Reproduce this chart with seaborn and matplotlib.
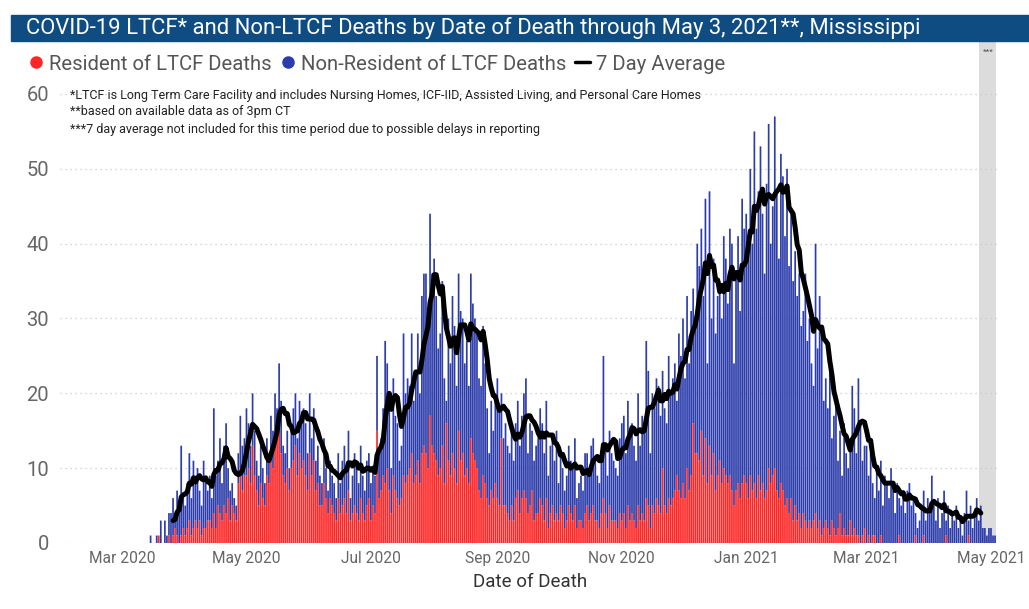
import matplotlib
matplotlib.use("Agg")
import matplotlib.pyplot as plt
import matplotlib.dates as mdates
from matplotlib.lines import Line2D
from matplotlib.patches import Rectangle
import pandas as pd
import seaborn as sns

# daily deaths from 2020-03-11 to 2021-05-03, one line per month
total_deaths = [
    0, 0, 0, 0, 1, 0, 0, 1, 1, 3, 0, 3, 1, 4, 4, 6, 4, 7, 5, 13, 6,
    5, 8, 12, 6, 11, 9, 10, 7, 5, 11, 8, 7, 9, 6, 18, 9, 11, 14, 8, 13, 16, 10, 7, 8, 6, 5, 12, 17, 13, 14,
    18, 16, 13, 20, 15, 11, 9, 13, 10, 8, 14, 12, 17, 15, 20, 18, 24, 19, 13, 12, 15, 10, 16, 18, 20, 14, 19, 17, 18, 16, 12,
    20, 14, 18, 11, 13, 9, 8, 14, 10, 7, 11, 9, 8, 6, 12, 8, 11, 13, 10, 15, 6, 9, 12, 10, 8, 13, 9, 7, 11, 12,
    8, 10, 9, 25, 12, 14, 18, 27, 24, 20, 10, 22, 17, 16, 11, 13, 28, 20, 22, 21, 28, 19, 22, 28, 20, 33, 36, 36, 28, 44, 36,
    38, 33, 26, 28, 35, 22, 19, 30, 24, 33, 29, 21, 36, 31, 30, 24, 27, 21, 36, 32, 30, 28, 22, 21, 29, 24, 18, 12, 19, 15, 20,
    22, 18, 20, 14, 16, 13, 12, 15, 11, 16, 19, 13, 17, 20, 22, 12, 16, 15, 11, 13, 14, 18, 16, 12, 19, 9, 13, 14, 11, 15,
    8, 12, 10, 7, 9, 13, 11, 10, 14, 6, 8, 9, 7, 12, 12, 10, 13, 14, 11, 9, 8, 12, 25, 13, 9, 15, 12, 11, 10, 9, 14,
    16, 17, 12, 19, 14, 16, 13, 11, 20, 13, 17, 15, 27, 23, 12, 20, 18, 22, 21, 17, 23, 18, 16, 25, 20, 22, 24, 19, 28, 25,
    30, 22, 33, 24, 31, 34, 30, 40, 37, 42, 33, 46, 24, 47, 30, 38, 28, 33, 35, 30, 41, 38, 32, 42, 40, 24, 36, 41, 31, 46, 42,
    44, 38, 50, 40, 55, 42, 47, 53, 44, 36, 48, 56, 40, 45, 57, 47, 38, 52, 49, 41, 50, 37, 44, 35, 39, 33, 36, 29, 31, 36, 27,
    30, 24, 21, 40, 26, 33, 28, 19, 22, 18, 24, 14, 17, 20, 11, 15, 9, 16, 12, 10, 14, 21, 18, 12, 22, 16, 11, 13,
    13, 9, 12, 8, 6, 10, 7, 11, 5, 9, 8, 6, 10, 7, 4, 8, 6, 5, 7, 4, 7, 8, 5, 6, 4, 2, 3, 5, 7, 3, 6,
    4, 9, 5, 3, 6, 2, 4, 7, 3, 5, 2, 4, 3, 5, 2, 3, 1, 4, 7, 3, 5, 2, 4, 6, 3, 5, 2, 2, 1, 2,
    2, 1, 1,
]

# deaths of long term care facility residents (part of the total)
ltcf_deaths = [
    0, 0, 0, 0, 0, 0, 0, 0, 1, 0, 0, 0, 0, 1, 0, 1, 2, 1, 0, 1, 2,
    1, 2, 3, 1, 2, 3, 2, 3, 1, 2, 2, 3, 3, 2, 4, 2, 5, 4, 3, 5, 4, 6, 3, 5, 4, 3, 8, 10, 7, 9,
    9, 10, 8, 13, 9, 7, 5, 8, 6, 5, 9, 8, 11, 10, 13, 14, 15, 12, 9, 8, 10, 7, 10, 11, 13, 9, 12, 10, 11, 9, 7,
    12, 9, 11, 7, 8, 5, 5, 8, 6, 4, 6, 5, 4, 3, 6, 4, 5, 6, 4, 7, 3, 4, 5, 4, 3, 6, 4, 3, 5, 6,
    3, 5, 4, 15, 6, 7, 9, 8, 10, 7, 4, 9, 7, 6, 5, 6, 9, 8, 9, 10, 12, 8, 9, 11, 8, 12, 13, 12, 10, 17, 13,
    12, 11, 9, 10, 13, 8, 16, 11, 9, 12, 10, 8, 15, 11, 12, 9, 10, 8, 14, 12, 11, 10, 7, 6, 9, 8, 6, 5, 7, 6, 8,
    6, 5, 14, 5, 5, 4, 3, 5, 3, 6, 7, 4, 6, 7, 6, 4, 5, 7, 3, 4, 4, 6, 5, 3, 6, 2, 4, 5, 3, 4,
    3, 5, 4, 2, 3, 5, 4, 3, 5, 2, 3, 3, 2, 4, 5, 3, 4, 5, 3, 3, 2, 4, 6, 4, 2, 5, 3, 3, 3, 2, 4,
    3, 4, 2, 5, 3, 4, 3, 2, 5, 3, 4, 3, 6, 5, 2, 5, 4, 6, 5, 4, 10, 5, 4, 6, 5, 6, 7, 9, 7, 6,
    8, 6, 10, 7, 9, 16, 12, 12, 11, 15, 9, 14, 8, 13, 9, 12, 7, 9, 11, 8, 10, 9, 8, 9, 7, 5, 7, 8, 6, 8, 9,
    8, 6, 9, 7, 8, 6, 9, 7, 8, 6, 7, 10, 8, 9, 10, 7, 6, 8, 7, 5, 6, 4, 6, 3, 5, 3, 4, 2, 4, 3, 2,
    3, 2, 3, 4, 2, 3, 1, 2, 3, 2, 1, 3, 2, 1, 2, 4, 1, 2, 1, 1, 3, 1, 2, 1, 1, 0, 1, 2,
    0, 1, 0, 1, 1, 0, 0, 1, 0, 0, 0, 0, 0, 0, 0, 0, 1, 0, 0, 0, 0, 0, 0, 0, 1, 0, 0, 0, 1, 0, 0,
    0, 0, 0, 0, 0, 0, 0, 0, 1, 0, 0, 0, 0, 0, 0, 0, 0, 0, 0, 1, 0, 0, 0, 0, 0, 0, 0, 0, 0, 0,
    0, 0, 0,
]

tick_dates = ["2020-03-01", "2020-05-01", "2020-07-01", "2020-09-01",
              "2020-11-01", "2021-01-01", "2021-03-01", "2021-05-01"]

RED = "#ff2626"
BLUE = "#2c3cab"
NAVY = "#0f4c81"

df = pd.DataFrame({
    "date": pd.date_range("2020-03-11", "2021-05-03", freq="D"),
    "total": total_deaths,
    "ltcf": ltcf_deaths,
})
df["non_ltcf"] = df["total"] - df["ltcf"]
df["avg7"] = df["total"].rolling(7).mean()
# the 7 day average is left out for the last week (reporting delays)
avg = df[(df["date"] >= "2020-03-26") & (df["date"] <= "2021-04-26")]

sns.set_theme(style="white")
plt.rcParams["font.family"] = ["Roboto", "DejaVu Sans"]

W, H = 1029, 609
fig = plt.figure(figsize=(W / 100, H / 100), dpi=100)
ax = fig.add_axes([60 / W, 1 - 543 / H, 940 / W, 455 / H])

ax.bar(df["date"], df["ltcf"], width=0.84, color=RED, linewidth=0, snap=False, zorder=2)
ax.bar(df["date"], df["non_ltcf"], bottom=df["ltcf"], width=0.84, color=BLUE,
       linewidth=0, snap=False, zorder=2)
sns.lineplot(data=avg, x="date", y="avg7", color="black", lw=3.6, ax=ax, zorder=3)

# grey band for the last days without a 7 day average
ax.axvspan(pd.Timestamp("2021-04-25"), pd.Timestamp("2021-05-03 12:00"), ymin=0, ymax=1.101,
           color="#dcdcdc", lw=0, zorder=0, clip_on=False)
fig.text(988 / W, 1 - 52 / H, "***", fontsize=6, color="#555", ha="center", va="center")

ax.set_xlim(pd.Timestamp("2020-01-30 14:00"), pd.Timestamp("2021-05-05 10:00"))
ax.set_ylim(0, 60.8)
ax.set_yticks(range(0, 61, 10))
ax.yaxis.grid(True, linestyle=(0, (1, 3)), color="#c8c8c8", lw=0.9)
ax.set_xticks(pd.to_datetime(tick_dates))
ax.xaxis.set_major_formatter(mdates.DateFormatter("%b %Y"))
ax.tick_params(axis="x", labelsize=11.2, labelcolor="#666", length=0, pad=6)
ax.tick_params(axis="y", labelsize=14.5, labelcolor="#666", length=0, pad=8)
ax.set_xlabel("Date of Death", fontsize=13.5, color="#333", labelpad=5)
ax.set_ylabel("")
for s in ax.spines.values():
    s.set_visible(False)

notes = ["*LTCF is Long Term Care Facility and includes Nursing Homes, ICF-IID, Assisted Living, and Personal Care Homes",
         "**based on available data as of 3pm CT",
         "***7 day average not included for this time period due to possible delays in reporting"]
for i, t in enumerate(notes):
    fig.text(70 / W, 1 - (95 + 17 * i) / H, t, fontsize=9.0, color="#222", va="center")

# title bar
fig.patches.append(Rectangle((11 / W, 1 - 41 / H), 1, 26 / H, transform=fig.transFigure,
                             color=NAVY, zorder=0))
fig.text(26 / W, 1 - 28 / H,
         "COVID-19 LTCF* and Non-LTCF Deaths by Date of Death through May 3, 2021**, Mississippi",
         fontsize=15.8, color="white", va="center")

handles = [Line2D([], [], marker="o", ls="", color=RED, markersize=8),
           Line2D([], [], marker="o", ls="", color=BLUE, markersize=8),
           Line2D([], [], color="black", lw=2.5)]
fig.legend(handles, ["Resident of LTCF Deaths", "Non-Resident of LTCF Deaths", "7 Day Average"],
           loc="center left", bbox_to_anchor=(28 / W, 1 - 64 / H), ncol=3, frameon=False,
           fontsize=14.6, labelcolor="#555", handlelength=0.75, handletextpad=0.3,
           columnspacing=0.4, borderaxespad=0, borderpad=0)

fig.savefig("out.png", dpi=100)
